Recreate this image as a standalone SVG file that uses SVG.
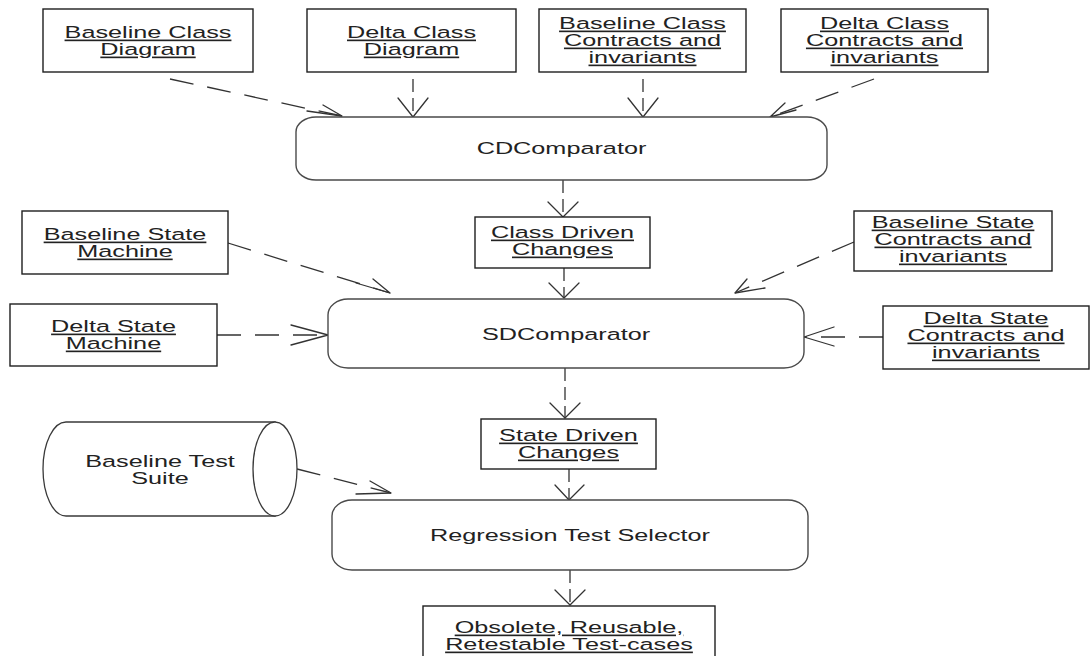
<svg xmlns="http://www.w3.org/2000/svg" width="1091" height="656" viewBox="0 0 1091 656">
  <style>
    .box { fill: #ffffff; stroke: #1e1e1e; stroke-width: 1.4; }
    .proc { fill: #ffffff; stroke: #4a4a4a; stroke-width: 1.4; }
    .store { fill: #ffffff; stroke: #3a3a3a; stroke-width: 1.3; }
    .lbl { font-family: "Liberation Sans", Arial, sans-serif; font-size: 16.5px; fill: #222222; text-anchor: middle; }
    .u { text-decoration: underline; }
    .dep { fill: none; stroke: #333333; stroke-width: 1.3; }
    .v { stroke-dasharray: 13 6; }
    .d { stroke-dasharray: 24 14; }
    .head { fill: none; stroke: #333333; stroke-width: 1.3; stroke-linecap: round; stroke-linejoin: round; }
  </style>

  <!-- dependency connectors -->
  <g id="connectors">
    <line class="dep d" x1="170" y1="79" x2="342" y2="116"/>
    <path class="head" d="M323,105 L342,116 L307,111"/>

    <line class="dep v" x1="413" y1="79" x2="413" y2="117"/>
    <path class="head" d="M398,98 L413,117 L428,98"/>

    <line class="dep v" x1="643" y1="79" x2="643" y2="117"/>
    <path class="head" d="M628,98 L643,117 L658,98"/>

    <line class="dep d" x1="874" y1="79" x2="770" y2="117"/>
    <path class="head" d="M785,103 L770,117 L796,110"/>

    <line class="dep v" x1="563" y1="180" x2="563" y2="217"/>
    <path class="head" d="M548,202 L563,217 L578,202"/>

    <line class="dep v" x1="564" y1="268" x2="564" y2="298"/>
    <path class="head" d="M549,283 L564,298 L579,283"/>

    <line class="dep d" x1="228" y1="243" x2="390" y2="293"/>
    <path class="head" d="M373,279 L390,293 L356,283"/>

    <line class="dep d" x1="217" y1="335" x2="328" y2="335"/>
    <path class="head" d="M291,325 L328,335 L291,345"/>

    <line class="dep d" x1="854" y1="242" x2="735" y2="293"/>
    <path class="head" d="M747,279 L735,293 L765,288"/>

    <line class="dep d" x1="883" y1="337" x2="804" y2="337"/>
    <path class="head" d="M834,327 L804,337 L834,346"/>

    <line class="dep v" x1="565" y1="368" x2="565" y2="418"/>
    <path class="head" d="M550,403 L565,418 L580,403"/>

    <line class="dep d" x1="297" y1="469" x2="391" y2="493"/>
    <path class="head" d="M370,481 L391,493 L356,494"/>

    <line class="dep v" x1="569" y1="469" x2="569" y2="500"/>
    <path class="head" d="M555,485 L569,500 L584,485"/>

    <line class="dep v" x1="570" y1="570" x2="570" y2="605"/>
    <path class="head" d="M555,590 L570,605 L585,590"/>
  </g>

  <!-- class level inputs -->
  <g id="baseline-class-diagram">
    <rect class="box" x="43" y="9" width="210" height="63"/>
    <text class="lbl u" transform="translate(148,0) scale(1.53,1)"><tspan x="0" y="38">Baseline Class</tspan><tspan x="0" y="55">Diagram</tspan></text>
  </g>
  <g id="delta-class-diagram">
    <rect class="box" x="307" y="9" width="209" height="63"/>
    <text class="lbl u" transform="translate(411.5,0) scale(1.53,1)"><tspan x="0" y="38">Delta Class</tspan><tspan x="0" y="55">Diagram</tspan></text>
  </g>
  <g id="baseline-class-contracts">
    <rect class="box" x="539" y="9" width="207" height="63"/>
    <text class="lbl u" transform="translate(642.5,0) scale(1.53,1)"><tspan x="0" y="29">Baseline Class</tspan><tspan x="0" y="46">Contracts and</tspan><tspan x="0" y="63">invariants</tspan></text>
  </g>
  <g id="delta-class-contracts">
    <rect class="box" x="781" y="9" width="207" height="63"/>
    <text class="lbl u" transform="translate(884.5,0) scale(1.53,1)"><tspan x="0" y="29">Delta Class</tspan><tspan x="0" y="46">Contracts and</tspan><tspan x="0" y="63">invariants</tspan></text>
  </g>

  <g id="cd-comparator">
    <rect class="proc" x="296" y="117" width="531" height="63" rx="20" ry="15"/>
    <text class="lbl" transform="translate(561.5,0) scale(1.53,1)" x="0" y="154">CDComparator</text>
  </g>

  <g id="class-driven-changes">
    <rect class="box" x="475" y="217" width="175" height="51"/>
    <text class="lbl u" transform="translate(562.5,0) scale(1.53,1)"><tspan x="0" y="238">Class Driven</tspan><tspan x="0" y="255">Changes</tspan></text>
  </g>

  <!-- state level inputs -->
  <g id="baseline-state-machine">
    <rect class="box" x="22" y="211" width="206" height="63"/>
    <text class="lbl u" transform="translate(125,0) scale(1.53,1)"><tspan x="0" y="240">Baseline State</tspan><tspan x="0" y="257">Machine</tspan></text>
  </g>
  <g id="delta-state-machine">
    <rect class="box" x="10" y="304" width="207" height="62"/>
    <text class="lbl u" transform="translate(113.5,0) scale(1.53,1)"><tspan x="0" y="332">Delta State</tspan><tspan x="0" y="349">Machine</tspan></text>
  </g>
  <g id="baseline-state-contracts">
    <rect class="box" x="854" y="211" width="198" height="60"/>
    <text class="lbl u" transform="translate(953,0) scale(1.53,1)"><tspan x="0" y="228">Baseline State</tspan><tspan x="0" y="245">Contracts and</tspan><tspan x="0" y="262">invariants</tspan></text>
  </g>
  <g id="delta-state-contracts">
    <rect class="box" x="883" y="306" width="206" height="63"/>
    <text class="lbl u" transform="translate(986,0) scale(1.53,1)"><tspan x="0" y="324">Delta State</tspan><tspan x="0" y="341">Contracts and</tspan><tspan x="0" y="358">invariants</tspan></text>
  </g>

  <g id="sd-comparator">
    <rect class="proc" x="328" y="299" width="476" height="69" rx="20" ry="16"/>
    <text class="lbl" transform="translate(566,0) scale(1.53,1)" x="0" y="340">SDComparator</text>
  </g>

  <g id="state-driven-changes">
    <rect class="box" x="481" y="419" width="175" height="50"/>
    <text class="lbl u" transform="translate(568.5,0) scale(1.53,1)"><tspan x="0" y="441">State Driven</tspan><tspan x="0" y="458">Changes</tspan></text>
  </g>

  <!-- stored test suite -->
  <g id="baseline-test-suite">
    <path class="store" d="M66,422 L275,422 L275,516 L66,516 A23,47 0 0 1 66,422 Z"/>
    <ellipse class="store" cx="275" cy="469" rx="22" ry="47"/>
    <text class="lbl" transform="translate(160,0) scale(1.53,1)"><tspan x="0" y="467">Baseline Test</tspan><tspan x="0" y="484">Suite</tspan></text>
  </g>

  <g id="regression-test-selector">
    <rect class="proc" x="332" y="500" width="476" height="70" rx="20" ry="16"/>
    <text class="lbl" transform="translate(570,0) scale(1.53,1)" x="0" y="541">Regression Test Selector</text>
  </g>

  <g id="selected-test-cases">
    <rect class="box" x="423" y="606" width="292" height="60"/>
    <text class="lbl u" transform="translate(569,0) scale(1.53,1)"><tspan x="0" y="633">Obsolete, Reusable,</tspan><tspan x="0" y="650">Retestable Test-cases</tspan></text>
  </g>
</svg>
